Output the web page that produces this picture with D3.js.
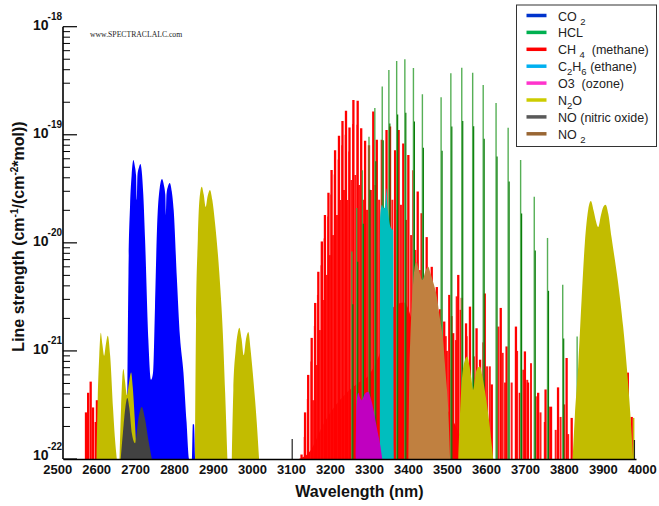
<!DOCTYPE html>
<html>
<head>
<meta charset="utf-8">
<script src="https://cdn.jsdelivr.net/npm/d3@7"></script>
<style>
  body { margin: 0; background: #fff; }
  svg { display: block; }
</style>
</head>
<body>
<div id="chart-container"></div>
<script>
// ---- data: [wavelength (nm), line strength (cm^-1/(cm^-2*mol))] ----
const xTicks = [2500, 2600, 2700, 2800, 2900, 3000, 3100, 3200, 3300, 3400, 3500, 3600, 3700, 3800, 3900, 4000];
const yExponents = [-22, -21, -20, -19, -18];

// CO2 bands (dense, drawn as filled envelope)
const co2Band = [[2679,1e-22],[2683,5.3e-21],[2687,2.2e-20],[2691,4.2e-20],[2695.6,5.85e-20],[2699,5.2e-20],[2702.5,4.2e-20],[2704.3,2.5e-20],[2706,4.2e-20],[2710,5.0e-20],[2713.6,5.37e-20],[2717,4.6e-20],[2721,2.8e-20],[2725.6,1.06e-20],[2734,1.26e-21],[2741,5.4e-22],[2746,6.3e-22],[2751,2.55e-21],[2756,1.3e-20],[2763,3.2e-20],[2769,3.9e-20],[2774,3.4e-20],[2777.5,2.8e-20],[2779,1.8e-20],[2780.5,2.8e-20],[2784,3.3e-20],[2789,3.58e-20],[2794,3.0e-20],[2799,2.0e-20],[2807,4.8e-21],[2815,1.37e-21],[2824,6.3e-22],[2832,2.2e-22],[2839,1e-22],[2846,1e-22],[2848,2.1e-22],[2851,2.1e-22],[2854,1e-22]];

// HCl lines (H35Cl and H37Cl)
const hclLines = [[3256,8.3e-21],[3268.5,2.1e-20],[3283,4.7e-20],[3300,9.6e-20],[3315,1.77e-19],[3334,2.79e-19],[3351,3.98e-19],[3371,4.82e-19],[3392,4.99e-19],[3414,4.15e-19],[3437,2.37e-19],[3485,2.22e-19],[3510,3.71e-19],[3538,4.18e-19],[3566,3.75e-19],[3593,2.89e-19],[3626,1.97e-19],[3657,1.16e-19],[3689,5.85e-20],[3724,2.67e-20],[3758,1.11e-20],[3797,4.1e-21],[3834,1.36e-21]];
const hcl37Lines = [[3258.5,2.7e-21],[3271,6.7e-21],[3285.5,1.5e-20],[3302.5,3.1e-20],[3317.5,5.7e-20],[3336.5,8.9e-20],[3353.5,1.27e-19],[3373.5,1.54e-19],[3394.5,1.6e-19],[3416.5,1.33e-19],[3439.5,7.6e-20],[3487.5,7.1e-20],[3512.5,1.19e-19],[3540.5,1.34e-19],[3568.5,1.2e-19],[3595.5,9.2e-20],[3628.5,6.3e-20],[3659.5,3.7e-20],[3691.5,1.87e-20],[3726.5,8.5e-21],[3760.5,3.6e-21],[3799.5,1.3e-21],[3836.5,4.4e-22]];

// CH4 lines
const ch4Lines = [[2574,2.7e-22],[2579.5,4.1e-22],[2586,5.2e-22],[2592,3.0e-22],[2599,2.2e-22],[2602,3.5e-22],
  [3127,1.1e-22],[3136,2.7e-22],[3144,6.0e-22],[3153,1.32e-21],[3162,2.78e-21],[3170,5.4e-21],[3179,1.03e-20],[3187,1.81e-20],[3196,2.91e-20],[3204,4.72e-20],[3213,7.2e-20],[3223,9.8e-20],[3232,1.34e-19],[3241,1.67e-19],[3250,1.17e-19],[3260,2.1e-19],[3271,2.07e-19],[3280,1.15e-19],[3290,8.8e-20],[3300,8.0e-20],[3311,1.64e-19],[3320,9.0e-20],[3333,9.0e-20],[3345,1.11e-19],[3354,1.19e-19],[3367,7.2e-20],[3376,1.11e-19],[3388,8.3e-20],[3401,6.5e-20],[3414,4.7e-20],[3425,2.98e-20],[3435,1.88e-20],[3448,1.13e-20],[3461,6.0e-21],[3474,3.9e-21],[3482,2.43e-21],[3493,1.87e-21],[3506,3.3e-21],[3516,1.46e-21],[3529,5.05e-21],[3538,3.1e-21],[3549,1.8e-21],[3559,2.57e-21],[3576,1.62e-21],[3585,8.3e-22],[3597,3.4e-21],[3615,4.9e-22],[3638,2.5e-21],[3653,1.1e-21],[3677,1.68e-21],[3687,4.1e-22],[3700,9.9e-22],[3708,5.1e-22],[3734,4.1e-22],[3753,4.4e-22],[3767,3.05e-22],[3785,4.6e-22],[3807,8.6e-22],[3820,2.4e-22],[3964,6.3e-22],[3974,2.45e-22]];
// companions just beside the strong R-branch lines
const ch4PairLines = [[3134.5,1.6e-22],[3142.5,3.6e-22],[3151.5,8e-22],[3160.5,1.7e-21],[3168.5,3.3e-21],[3177.5,6.2e-21],[3185.5,1.1e-20],[3194.5,1.75e-20],[3202.5,2.8e-20],[3211.5,4.3e-20],[3221.5,5.9e-20],[3230.5,8e-20],[3239.5,1.0e-19],[3248.5,7e-20],[3258.5,1.26e-19],[3269.5,1.24e-19]];
const ch4WeakLines = [[3157,3.5e-22],[3166,7.4e-22],[3174,1.56e-21],[3183,2.96e-21],[3192,5.05e-21],[3200,7.7e-21],[3208,1.18e-20],[3218,1.81e-20],[3227,2.49e-20],[3236,3.09e-20],[3245,2.49e-20],[3255,3.82e-20],[3265,4.25e-20],[3275,3.43e-20],[3285,2.5e-20],[3295,2.02e-20],[3305,3.09e-20],[3315,3.43e-20],[3326,2.5e-20],[3360,2.5e-20],[3372,2.02e-20],[3382,2.25e-20],[3395,1.63e-20],[3408,1.18e-20],[3419,8.6e-21],[3430,5.6e-21],[3441,3.7e-21],[3454,2.4e-21],[3467,1.56e-21],[3478,1.14e-21],[3487,8.3e-22],[3500,1.0e-21],[3510,6.7e-22],[3523,1.26e-21],
  [3497,1.37e-21],[3512,2.1e-21],[3525,3.2e-21],[3535,2.4e-21],[3550.5,1.37e-21],[3569,8.9e-22],[3593,1.2e-21],[3603,7.2e-22],[3610,7.2e-22],[3632,1.68e-21],[3643,9.6e-22],[3649,5.1e-22],[3666,5.1e-22],[3680,1.0e-21],[3696,6.7e-22],[3706,5.4e-22],[3715.6,7.7e-22],[3728,3.8e-22],[3740,2.7e-22],[3751,2.2e-22],[3761.5,3.05e-22],[3779,1.86e-22],[3791.5,2.45e-22],[3800.8,3.2e-22],[3811,1.7e-22]];
// dense weak CH4 lines, seen as a solid floor
const ch4Floor = [[3120,1e-22],[3150,1.2e-22],[3180,2e-22],[3210,3e-22],[3240,4e-22],[3270,5e-22],[3300,6e-22],[3330,1e-21],[3360,2.5e-21],[3390,2.8e-21],[3420,1.5e-21],[3450,8e-22],[3480,4e-22],[3510,2.5e-22],[3540,1.5e-22],[3570,1e-22]];

// C2H6, O3, NO2 bands
const c2h6Band = [[3328,1e-22],[3328.5,1.7e-20],[3331,2.1e-20],[3333,2.25e-20],[3337,2.1e-20],[3340,2.1e-20],[3343,2.6e-20],[3345,3.2e-20],[3347,2.3e-20],[3350,1.8e-20],[3354,1.45e-20],[3358,1.35e-20],[3362,1.3e-20],[3363.5,1e-22]];
const o3Band = [[3266,1e-22],[3268,3.2e-22],[3272.6,4.1e-22],[3277,3.7e-22],[3281,3.5e-22],[3289,4e-22],[3298,4.2e-22],[3306,3.5e-22],[3315,2.45e-22],[3322,1.8e-22],[3328,1.4e-22],[3334,1e-22]];
const no2Band = [[3401,1e-22],[3403.5,6.3e-22],[3406,1.3e-21],[3409.5,2.57e-21],[3414,4.54e-21],[3418,6.2e-21],[3422,6.7e-21],[3427,5.8e-21],[3437,4.54e-21],[3445,5.5e-21],[3452,6.0e-21],[3458,5.2e-21],[3463,4.54e-21],[3474,3.18e-21],[3482,2.0e-21],[3490,1.26e-21],[3497,6e-22],[3503,3.05e-22],[3508,1e-22]];

// N2O bands
const n2oBandA = [[2601,1e-22],[2604,3.5e-22],[2608,9e-22],[2612,1.47e-21],[2616,1.15e-21],[2620.5,9e-22],[2625,1.15e-21],[2630,1.38e-21],[2636,9e-22],[2643.6,2.85e-22],[2648,1.6e-22],[2653,1e-22]];
const n2oBandB = [[2660,1e-22],[2664,3e-22],[2667,5.5e-22],[2670,6.8e-22],[2674,5.3e-22],[2679,3.9e-22],[2684,5e-22],[2689.7,6.3e-22],[2694,4.6e-22],[2699,2.4e-22],[2704,1e-22]];
const n2oBandC = [[2853.8,1e-22],[2856.4,1.94e-21],[2860.8,1.06e-20],[2865,2.5e-20],[2871,3.31e-20],[2876,2.8e-20],[2881,2.15e-20],[2886,2.7e-20],[2892,3.09e-20],[2898,2.5e-20],[2905,1.53e-20],[2916,5.27e-21],[2925,1.47e-21],[2931,4.1e-22],[2936.7,1e-22]];
const n2oBandD = [[2948,1e-22],[2952,4.36e-22],[2958,1.02e-21],[2963,1.45e-21],[2967.4,1.64e-21],[2973,1.3e-21],[2978.7,9.1e-22],[2984,1.25e-21],[2990.5,1.5e-21],[2996,1.05e-21],[3001.8,6.3e-22],[3012,2.2e-22],[3018,1e-22]];
const n2oBandE = [[3529,1e-22],[3537.7,5.06e-22],[3544,7.75e-22],[3552,8.9e-22],[3558,7.2e-22],[3563,5.4e-22],[3567,4.36e-22],[3576,6.67e-22],[3584.6,7.16e-22],[3591,5.8e-22],[3597,4.36e-22],[3608.5,2.2e-22],[3618.7,1e-22]];
const n2oBandF = [[3822.5,1e-22],[3828,2.45e-22],[3836.7,7.16e-22],[3845.4,2.97e-21],[3853.8,1e-20],[3862.3,2.02e-20],[3869.2,2.44e-20],[3876,2.0e-20],[3882,1.6e-20],[3888,1.4e-20],[3895,1.8e-20],[3901,2.15e-20],[3907,2.25e-20],[3914,1.85e-20],[3922,1.14e-20],[3939.2,4.23e-21],[3952,1.68e-21],[3962,6.67e-22],[3971,2.45e-22],[3977.7,1e-22]];
const n2oLines = [[3979,2.4e-22]];

// NO
const noBand = [[2663,1e-22],[2669,1.8e-22],[2675,3e-22],[2680,3.67e-22],[2685,3e-22],[2692,1.7e-22],[2700,1.4e-22],[2708,2.3e-22],[2717,3.03e-22],[2725,2.4e-22],[2734,1.5e-22],[2743,1e-22]];
const noLines = [[3103,1.53e-22],[3981,1.5e-22]];

// legend: label parts [text, subscript?]
const legendNames = [
  [["CO "], ["2", 1]],
  [["HCL"]],
  [["CH "], ["4", 1], ["  (methane)"]],
  [["C"], ["2", 1], ["H"], ["6", 1], [" (ethane)"]],
  [["O3  (ozone)"]],
  [["N"], ["2", 1], ["O"]],
  [["NO (nitric oxide)"]],
  [["NO "], ["2", 1]]
];
const legendColors = ["#0033cc", "#00b050", "#ff0000", "#00b0f0", "#ff33cc", "#cccc00", "#595959", "#996633"];

function drawSpectrum() {
  const width = 659, height = 506;
  const plotLeft = 63, plotRight = 636, plotTop = 26.7, plotBottom = 459;

  const svg = d3.select("#chart-container")
    .append("svg")
    .attr("width", width)
    .attr("height", height)
    .style("background", "#fff");

  // scales
  const x = d3.scaleLinear().domain([2515, 3985]).range([plotLeft, plotRight]);
  const y = d3.scaleLog().domain([1e-22, 1e-18]).range([plotBottom, plotTop]);

  svg.append("clipPath").attr("id", "plot-clip")
    .append("rect")
    .attr("x", plotLeft).attr("y", 18)
    .attr("width", 580).attr("height", plotBottom - 18);

  const g = svg.append("g").attr("clip-path", "url(#plot-clip)");

  const area = d3.area()
    .x((d) => x(d[0]))
    .y0(y(1e-22))
    .y1((d) => y(d[1]))
    .curve(d3.curveMonotoneX);

  function band(data, color) {
    g.append("path").datum(data)
      .attr("d", area)
      .attr("fill", color);
  }

  function sticks(data, color, w, op) {
    g.append("g").selectAll("line")
      .data(data)
      .join("line")
      .attr("x1", (d) => x(d[0]))
      .attr("x2", (d) => x(d[0]))
      .attr("y1", y(1e-22))
      .attr("y2", (d) => y(d[1]))
      .attr("stroke", color)
      .attr("stroke-width", w)
      .attr("stroke-opacity", op);
  }

  // marks
  band(co2Band, "#0000ff");
  band(ch4Floor, "#ff0000");
  sticks(ch4WeakLines, "#ff0000", 2, 0.9);
  sticks(ch4PairLines, "#ff2020", 1.6, 0.8);
  sticks(ch4Lines, "#ff0000", 2.3, 1);
  sticks(hclLines, "#44a644", 1.4, 0.9);
  sticks(hcl37Lines, "#0a7d0a", 1.2, 1);
  band(c2h6Band, "#00bebe");
  band(o3Band, "#c000c0");
  [n2oBandA, n2oBandB, n2oBandC, n2oBandD, n2oBandE, n2oBandF].forEach((b) => band(b, "#c2bc00"));
  sticks(n2oLines, "#c2bc00", 1.5, 1);
  band(noBand, "#424242");
  sticks(noLines, "#222", 1.2, 1);
  band(no2Band, "#c08040");

  // x axis
  const xAxis = svg.append("g")
    .attr("transform", "translate(0," + plotBottom + ")")
    .call(d3.axisBottom(x).tickValues(xTicks).tickSize(0).tickSizeOuter(0).tickPadding(6).tickFormat(d3.format("d")));
  xAxis.select(".domain").attr("stroke", "#000").attr("stroke-width", 1.6);
  xAxis.selectAll("text")
    .style("font-family", "'Liberation Sans', Arial, sans-serif")
    .style("font-size", "13px")
    .style("font-weight", "bold")
    .attr("fill", "#111");

  // y axis (ticks point inward)
  const majorTicks = yExponents.map((e) => Math.pow(10, e));
  const minorTicks = [];
  yExponents.slice(0, -1).forEach((e) => {
    for (let m = 2; m <= 9; m++) minorTicks.push(m * Math.pow(10, e));
  });

  const yAxis = svg.append("g").attr("transform", "translate(" + plotLeft + ",0)");
  yAxis.append("line")
    .attr("x1", 0).attr("x2", 0)
    .attr("y1", y(1e-18)).attr("y2", y(1e-22))
    .attr("stroke", "#000").attr("stroke-width", 1.6);
  yAxis.selectAll(".major").data(majorTicks).join("line")
    .attr("x1", 0).attr("x2", 14)
    .attr("y1", (d) => y(d)).attr("y2", (d) => y(d))
    .attr("stroke", "#000").attr("stroke-width", 1.2);
  yAxis.selectAll(".minor").data(minorTicks).join("line")
    .attr("x1", 0).attr("x2", 7)
    .attr("y1", (d) => y(d)).attr("y2", (d) => y(d))
    .attr("stroke", "#000").attr("stroke-width", 1);

  const yLabels = svg.append("g")
    .style("font-family", "'Liberation Sans', Arial, sans-serif")
    .style("font-weight", "bold")
    .attr("fill", "#111");
  yExponents.forEach((e) => {
    const t = yLabels.append("text")
      .attr("x", 33)
      .attr("y", y(Math.pow(10, e)) + (e === -22 ? 1 : 3.5));
    t.append("tspan").style("font-size", "14px").text("10");
    t.append("tspan").style("font-size", "10px").attr("dx", -1).attr("dy", -10).text(e);
  });

  // axis titles
  svg.append("text")
    .attr("x", 359.5)
    .attr("y", 497)
    .attr("text-anchor", "middle")
    .style("font-family", "'Liberation Sans', Arial, sans-serif")
    .style("font-size", "16px")
    .style("font-weight", "bold")
    .attr("fill", "#111")
    .text("Wavelength (nm)");

  const yTitle = svg.append("text")
    .attr("transform", "translate(24,236.5) rotate(-90)")
    .attr("text-anchor", "middle")
    .style("font-family", "'Liberation Sans', Arial, sans-serif")
    .style("font-size", "16px")
    .style("font-weight", "bold")
    .attr("fill", "#111");
  yTitle.append("tspan").text("Line strength (cm");
  yTitle.append("tspan").style("font-size", "10px").attr("dy", -6).text("-1");
  yTitle.append("tspan").attr("dy", 6).text("/(cm");
  yTitle.append("tspan").style("font-size", "10px").attr("dy", -6).text("-2");
  yTitle.append("tspan").attr("dy", 6).text("*mol))");

  // watermark
  svg.append("text")
    .attr("x", 90)
    .attr("y", 36.5)
    .style("font-family", "'Liberation Serif', 'Times New Roman', serif")
    .style("font-size", "7.7px")
    .attr("fill", "#222")
    .text("www.SPECTRACLALC.com");

  // legend
  const legend = svg.append("g");
  legend.append("rect")
    .attr("x", 516.5).attr("y", 5)
    .attr("width", 140).attr("height", 141.5)
    .attr("fill", "#fff")
    .attr("stroke", "#333")
    .attr("stroke-width", 1);

  legendNames.forEach((parts, i) => {
    const ly = 15.5 + i * 16.9;
    legend.append("line")
      .attr("x1", 526.5).attr("x2", 546.5)
      .attr("y1", ly).attr("y2", ly)
      .attr("stroke", legendColors[i])
      .attr("stroke-width", 3.5);
    const t = legend.append("text")
      .attr("x", 558)
      .attr("y", ly + 5)
      .style("font-family", "'Liberation Sans', Arial, sans-serif")
      .style("font-size", "12.5px")
      .style("white-space", "pre")
      .attr("fill", "#222");
    let shifted = false;
    parts.forEach((p) => {
      const ts = t.append("tspan").text(p[0]);
      if (p[1]) {
        ts.style("font-size", "9.5px").attr("dy", shifted ? 0 : 4);
        shifted = true;
      } else if (shifted) {
        ts.attr("dy", -4);
        shifted = false;
      }
    });
  });
}

drawSpectrum();
</script>
</body>
</html>
